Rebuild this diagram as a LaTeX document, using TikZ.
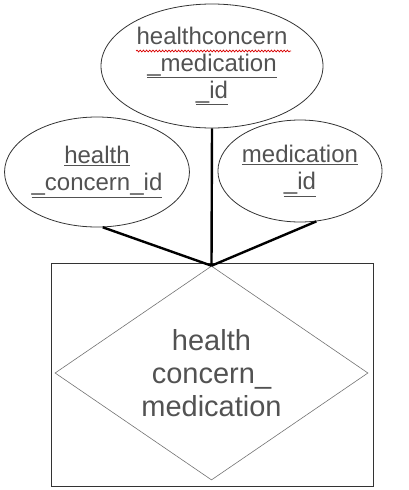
\documentclass[tikz,border=0pt]{standalone}
\usepackage{fontspec}
\setmainfont{Liberation Sans}
\usetikzlibrary{shapes.geometric,decorations.pathmorphing}
\begin{document}
\begin{tikzpicture}[x=1pt,y=-1pt,
  attr/.style={ellipse, draw=black!80, line width=0.8pt, inner sep=0pt,
    text=black!68, font=\fontsize{24}{27}\selectfont, align=center},
  link/.style={line width=2.4pt, black},
  squiggle/.style={red!85!black, line width=0.7pt, decorate,
    decoration={snake, amplitude=0.9pt, segment length=3.2pt}}]
\useasboundingbox (0,0) rectangle (409,490);
% associative entity box
\node[draw=black!80, line width=1pt, minimum width=322pt, minimum height=223pt,
  inner sep=0pt] (box) at (212,374.5) {};
\node[diamond, draw=black!55, line width=0.6pt, inner sep=0pt, aspect=1.46,
  minimum width=313pt, minimum height=214pt, text=black!68,
  font=\fontsize{29}{33}\selectfont, align=center] (rel) at (211.5,373)
  {health\\concern\_\\medication};
% attributes
\node[attr, minimum width=222pt, minimum height=124pt] (hcm) at (212,66)
  {healthconcern\\\underline{\_medication}\\\underline{\_id}};
\node[attr, minimum width=184pt, minimum height=110pt] (hc) at (97,172)
  {\underline{health}\\\underline{\_concern\_id}};
\node[attr, minimum width=148pt, minimum height=102pt] (med) at (300,171)
  {\underline{medication}\\\underline{\_id}};
% spell-check squiggle
\draw[squiggle] (136,51) -- (291,51);
% connectors
\draw[link] (hcm.south) -- (rel.north);
\draw[link] (hc.-84) -- (rel.north);
\draw[link] (med.-72) -- (rel.north);
\end{tikzpicture}
\end{document}
